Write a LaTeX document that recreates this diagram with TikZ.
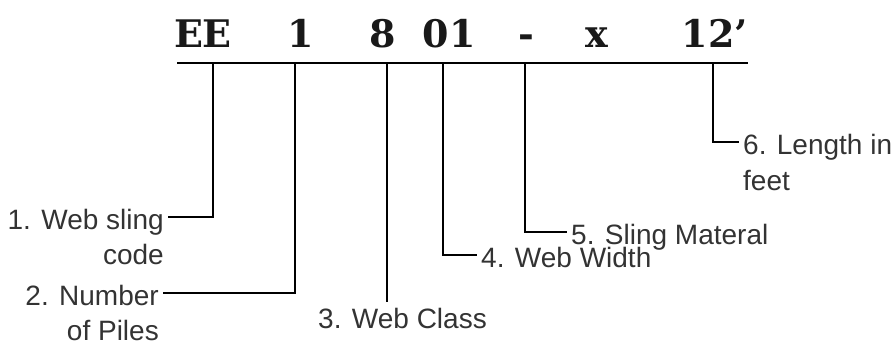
\documentclass[tikz,border=0pt]{standalone}
\usepackage{fontspec}
\setmainfont{Liberation Sans}
\newfontfamily\slingfont{DejaVu Serif}
\usetikzlibrary{positioning}
\tikzstyle{code}=[inner sep=0pt, anchor=base, text=black!90, font=\slingfont\bfseries\fontsize{38}{42}\selectfont]
\tikzstyle{lbl}=[inner sep=0pt, inner xsep=4pt, text height=26pt, text depth=0pt, text=black!80, font=\fontsize{28}{36}\selectfont]
\tikzstyle{more}=[inner sep=0pt, inner xsep=4pt, text=black!80, font=\fontsize{28}{36}\selectfont]
\tikzstyle{rule}=[line width=2.6pt]
\tikzstyle{lead}=[line width=2.2pt]

\begin{document}
\begin{tikzpicture}[x=1pt, y=-1pt]
\useasboundingbox (0,0) rectangle (895,347);
% Code
    \node[code] (ee) at (203,48) {EE};
    \node[code] (piles) at (301,48) {1};
    \node[code] (class) at (383,48) {8};
    \node[code] (width) at (449,48) {01};
    \node[code] (dash) at (526,48) {-};
    \node[code] (mat) at (597,48) {x};
    \node[code] (len) at (715,48) {12’};
% Rule
    \draw[rule] (177,63) -- (748,63);
    \coordinate (t1) at (213,63);
    \coordinate (t2) at (295,63);
    \coordinate (t3) at (387,63);
    \coordinate (t4) at (443,63);
    \coordinate (t5) at (525,63);
    \coordinate (t6) at (713,63);
% Labels
    \node[lbl, anchor=east] (l1) at (168,217) {1. Web sling};
    \node[more, anchor=base east] (l1b) at ([yshift=-35pt]l1.base east) {code};
    \node[lbl, anchor=east] (l2) at (163,293) {2. Number};
    \node[more, anchor=base east] (l2b) at ([yshift=-35pt]l2.base east) {of Piles};
    \node[more, anchor=north west, inner ysep=6pt] (l3) at (314,302) {3. Web Class};
    \node[lbl, anchor=west] (l4) at (477,255) {4. Web Width};
    \node[lbl, anchor=west] (l5) at (567,232) {5. Sling Materal};
    \node[lbl, anchor=west] (l6) at (739,142) {6. Length in};
    \node[more, anchor=base west] (l6b) at ([yshift=-36pt]l6.base west) {feet};
% Leads
    \draw[lead] (t1) |- (l1.east);
    \draw[lead] (t2) |- (l2.east);
    \draw[lead] (t3) -- (t3 |- l3.north);
    \draw[lead] (t4) |- (l4.west);
    \draw[lead] (t5) |- (l5.west);
    \draw[lead] (t6) |- (l6.west);
\end{tikzpicture}
\end{document}
